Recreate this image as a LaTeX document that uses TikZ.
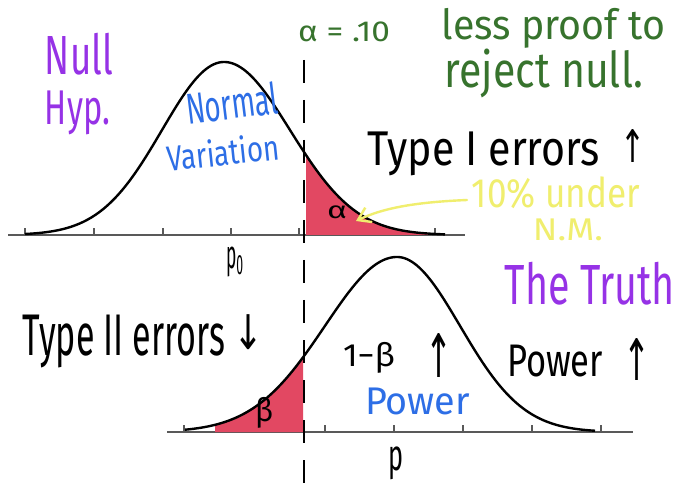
\documentclass[tikz,border=0pt]{standalone}
\usepackage{fontspec}
\setmainfont{Fira Sans}
\newfontfamily\symf{DejaVu Sans}
\usepackage{graphicx}
\usetikzlibrary{arrows.meta}
\definecolor{hpurple}{RGB}{150,50,230}
\definecolor{hblue}{RGB}{45,110,230}
\definecolor{hgreen}{RGB}{55,115,45}
\definecolor{hyellow}{RGB}{240,238,110}
\definecolor{hred}{RGB}{226,72,98}
\newcommand{\fitbox}[3]{\resizebox*{#1pt}{#2pt}{#3}}
\begin{document}
\begin{tikzpicture}[x=1pt,y=-1pt,
  lbl/.style={inner sep=0pt, anchor=center},
  curve/.style={line width=2.4pt, black, line join=round},
  axis/.style={line width=1.3pt, black!65},
  tickmark/.style={line width=1.1pt, black!65},
  redfill/.style={fill=hred},
  dashline/.style={line width=2.6pt, black, dash pattern=on 23pt off 17pt}]
\useasboundingbox[fill=white] (0,0) rectangle (680,486);

% axes
\coordinate (a1) at (8,235); \coordinate (a2) at (465,235);
\coordinate (b1) at (167,432); \coordinate (b2) at (633,432);
\draw[axis] (a1) -- (a2);
\draw[axis] (b1) -- (b2);
\foreach \t in {25,94,163,231,299,367,435} \draw[tickmark] (\t,235) -- (\t,228);
\foreach \t in {184,253,325,394,463,532,601} \draw[tickmark] (\t,432) -- (\t,425);

% red areas
\fill[redfill] (306,235) -- plot[domain=306:445,samples=40] (\x,{235-173*exp(-0.5*((\x-224)/66)^2)}) -- (445,235) -- cycle;
\fill[redfill] (215,432) -- plot[domain=215:303,samples=40] (\x,{432-175*exp(-0.5*((\x-397)/72)^2)}) -- (303,432) -- cycle;

% curves
\draw[curve] plot[domain=25:224,samples=80,smooth] (\x,{235-173*exp(-0.5*((\x-224)/62)^2)})
  -- plot[domain=224:445,samples=80,smooth] (\x,{235-173*exp(-0.5*((\x-224)/66)^2)});
\draw[curve] plot[domain=185:397,samples=80,smooth] (\x,{432-175*exp(-0.5*((\x-397)/72)^2)})
  -- plot[domain=397:595,samples=80,smooth] (\x,{432-175*exp(-0.5*((\x-397)/63)^2)});

% dashed critical line
\coordinate (d1) at (304,60); \coordinate (d2) at (304,486);
\draw[dashline] (d1) -- (d2);

% labels
\node[lbl, text=hpurple] (null) at (79,54) {\fitbox{68}{42}{Null}};
\node[lbl, text=hpurple] (hyp) at (77.5,113) {\fitbox{65}{44}{Hyp.}};
\node[lbl, text=hblue, rotate=7] (normal) at (232,103) {\fitbox{92}{33}{Normal}};
\node[lbl, text=hblue, rotate=6] (variation) at (223,152) {\fitbox{113}{28}{Variation}};
\node[lbl, text=hgreen] (alpha) at (344,32) {\fitbox{92}{20}{α = .10}};
\node[lbl, text=hgreen] (less) at (553.5,28) {\fitbox{223}{40}{less proof to}};
\node[lbl, text=hgreen] (reject) at (544,73.5) {\fitbox{198}{49}{reject null.}};
\node[lbl] (type1) at (484,154) {\fitbox{232}{44}{Type I errors}};
\node[lbl] (up1) at (632.5,146.5) {\fitbox{25}{33}{\symf ↑}};
\node[lbl, text=hyellow] (tenpct) at (556,193) {\fitbox{168}{32}{10\% under}};
\node[lbl, text=hyellow] (nm) at (568,229.5) {\fitbox{70}{22}{N.M.}};
\node[lbl] (alsym) at (337,212.5) {\fitbox{20}{13}{α}};
\node[lbl] (p0) at (235,262) {\fitbox{18}{30}{p\textsubscript{0}}};
\node[lbl, text=hpurple] (truth) at (590,283.5) {\fitbox{170}{43}{The Truth}};
\node[lbl] (type2) at (124,341.5) {\fitbox{202}{53}{Type II errors}};
\node[lbl] (down2) at (248,332.5) {\fitbox{30}{35}{\symf ↓}};
\node[lbl] (onemb) at (369,357.5) {\fitbox{52}{31}{1−β}};
\node[lbl] (up2) at (438.5,355) {\fitbox{27}{44}{\symf ↑}};
\node[lbl] (power) at (555,361) {\fitbox{96}{32}{Power}};
\node[lbl] (up3) at (636.5,359) {\fitbox{27}{42}{\symf ↑}};
\node[lbl, text=hblue] (powerb) at (417.5,401.5) {\fitbox{105}{27}{Power}};
\node[lbl] (beta) at (264,412.5) {\fitbox{18}{31}{β}};
\node[lbl] (p) at (395.5,463.5) {\fitbox{15}{33}{p}};

% yellow arrow
\coordinate (ytail) at (467,200);
\coordinate (ytip) at (356,221);
\draw[hyellow, line width=2.4pt, line cap=round, -{Straight Barb[length=12pt,width=16pt]}]
  (ytail) .. controls (420,202) and (385,207) .. (ytip);
\end{tikzpicture}
\end{document}
